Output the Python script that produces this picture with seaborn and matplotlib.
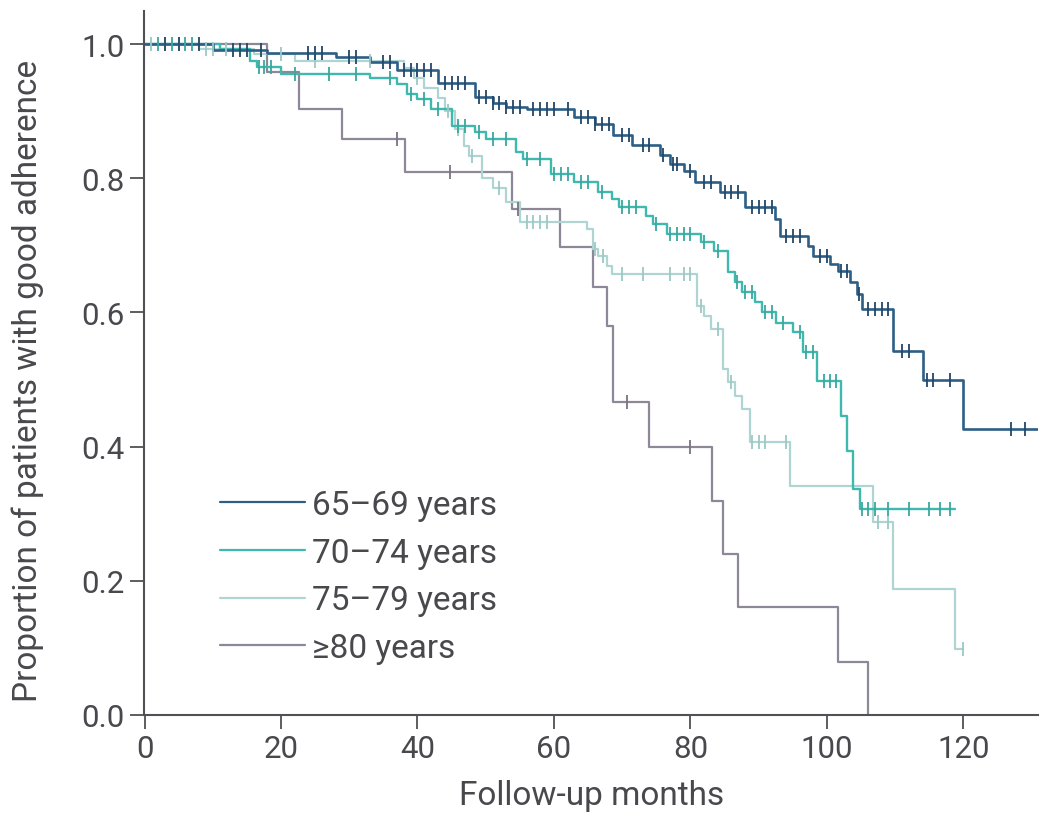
import numpy as np
import pandas as pd
import matplotlib
matplotlib.use("Agg")
import matplotlib.pyplot as plt
import seaborn as sns

# ---------------- data ----------------
groups = ["65\u201369 years", "70\u201374 years", "75\u201379 years", "\u226580 years"]

# step times (months) and survival level after each step
t_6569 = [0, 10, 18, 28, 33, 37, 43, 48.5, 51, 53, 56, 63, 66, 68.6, 71.5, 75.5, 77, 79,
          80.6, 84.3, 88, 92.4, 93.1, 97.2, 97.9, 100.4, 101.6, 103.4, 104.4, 105.1,
          109.7, 114.1, 120]
s_6569 = [1.0, 0.992, 0.987, 0.981, 0.973, 0.962, 0.942, 0.921, 0.913, 0.906, 0.903, 0.891,
          0.881, 0.865, 0.850, 0.835, 0.822, 0.811, 0.794, 0.779, 0.757, 0.739, 0.714,
          0.699, 0.684, 0.672, 0.662, 0.645, 0.627, 0.605, 0.542, 0.500, 0.426]
end_6569 = 131
c_6569 = [3, 5, 8, 13, 14, 15, 17, 24, 25, 26, 30, 31, 35, 36, 38, 39, 40, 41, 42, 44, 45,
          46, 47, 49, 50, 51, 52, 53, 54, 55, 57, 58, 59, 60, 62, 64, 65, 66, 67, 68, 70,
          71, 73, 74, 76, 77.5, 78, 80, 82, 83, 85, 86, 87, 89, 90, 91, 92, 94, 95, 96, 99,
          100, 102, 103, 104.7, 106, 107, 108, 109, 111, 112, 114.6, 115.5, 118, 127, 129]

t_7074 = [0, 11, 15.5, 16.5, 20, 33, 37, 38.5, 40, 42, 45, 48.5, 50, 54.5, 55.5, 59.5, 63,
          66.5, 68.5, 69.5, 73.5, 74.5, 76.5, 81.5, 83.5, 85.5, 86.5, 87.5, 89.5, 90.5, 92.5,
          95, 96.5, 98.5, 102, 103, 103.8, 104.8]
s_7074 = [1.0, 0.993, 0.975, 0.966, 0.955, 0.950, 0.940, 0.925, 0.918, 0.903, 0.878, 0.869,
          0.858, 0.839, 0.829, 0.806, 0.794, 0.779, 0.769, 0.757, 0.744, 0.732, 0.717, 0.705,
          0.692, 0.660, 0.645, 0.630, 0.615, 0.600, 0.585, 0.571, 0.541, 0.498, 0.446, 0.393,
          0.337, 0.307]
end_7074 = 118.8
c_7074 = [2, 4, 6, 7, 16.8, 17.5, 18.5, 22, 27, 31, 36, 39, 41, 43, 46, 47, 49, 51, 53, 56,
          58, 60, 61, 62, 64, 65, 67, 70, 71, 72, 75, 77, 78, 79, 80, 82, 84, 86.8, 88, 89,
          91, 92, 93.5, 96, 97, 98, 99.5, 100.5, 101.3, 105.2, 106, 107, 109, 112, 115, 116.5,
          118]

t_7579 = [0, 8, 16, 22, 38, 39.5, 41, 43, 44, 45.5, 46.8, 47.5, 49.5, 51, 53, 55, 64.8,
          65.7, 66.5, 67.7, 68.5, 81, 82, 83, 84.8, 85.5, 86.5, 87.5, 88.7, 94.6, 106.7,
          109.7, 118.8]
s_7579 = [1.0, 0.993, 0.985, 0.975, 0.965, 0.950, 0.935, 0.920, 0.900, 0.873, 0.848, 0.833,
          0.800, 0.785, 0.765, 0.735, 0.724, 0.695, 0.684, 0.669, 0.657, 0.610, 0.595, 0.575,
          0.515, 0.496, 0.475, 0.456, 0.407, 0.341, 0.288, 0.188, 0.098]
end_7579 = 120
c_7579 = [1, 3, 5, 9, 10, 12, 20, 25, 33, 40, 44.5, 46, 48, 52, 56, 57, 58, 59, 66, 67.2,
          70, 73, 77, 79, 80, 81.5, 84, 86, 89, 90, 91, 94, 107.5, 109, 120]

t_80 = [0, 17.9, 22.7, 28.9, 38.1, 53.8, 60.9, 65.7, 67.7, 68.6, 74.0, 83.1, 84.8, 87.0,
        101.6, 106.0]
s_80 = [1.0, 0.958, 0.903, 0.858, 0.809, 0.754, 0.697, 0.638, 0.580, 0.466, 0.400, 0.319,
        0.240, 0.161, 0.079, 0.0]
end_80 = 106.0
c_80 = [37, 44.7, 54.7, 70.7, 80]

x_ticks = [0, 20, 40, 60, 80, 100, 120]
y_ticks = [0.0, 0.2, 0.4, 0.6, 0.8, 1.0]
x_label = "Follow-up months"
y_label = "Proportion of patients with good adherence"

colors = {groups[0]: "#2d5f86", groups[1]: "#3fb8ad", groups[2]: "#aed5d2",
          groups[3]: "#8e8797"}
widths = {groups[0]: 1.9, groups[1]: 1.7, groups[2]: 1.6, groups[3]: 1.6}
censor_colors = {groups[0]: "#23476a", groups[1]: "#3aa79d", groups[2]: "#9cc9c5",
                 groups[3]: "#7a7382"}

series = {
    groups[0]: (t_6569, s_6569, end_6569, c_6569),
    groups[1]: (t_7074, s_7074, end_7074, c_7074),
    groups[2]: (t_7579, s_7579, end_7579, c_7579),
    groups[3]: (t_80, s_80, end_80, c_80),
}

# ---------------- build tables ----------------
curve_rows, cens_rows = [], []
for g, (t, s, end, c) in series.items():
    tt = list(t) + ([end] if end > t[-1] else [])
    ss = list(s) + ([s[-1]] if end > t[-1] else [])
    for i, (a, b) in enumerate(zip(tt, ss)):
        curve_rows.append({"group": g, "month": a, "prop": b, "order": i})
    t_arr = np.asarray(t)
    s_arr = np.asarray(s)
    for ci in c:
        lvl = s_arr[np.searchsorted(t_arr, ci, side="right") - 1]
        cens_rows.append({"group": g, "month": ci, "prop": lvl})
curves = pd.DataFrame(curve_rows)
cens = pd.DataFrame(cens_rows)

# ---------------- plot ----------------
sns.set_theme(style="white")
plt.rcParams["font.family"] = ["Roboto", "DejaVu Sans"]
text_color = "#48484d"
FS = 22.5
LFS = 24

fig = plt.figure(figsize=(10.5, 8.2), dpi=100)
ax = fig.add_axes([0.137, 0.127, 0.852, 0.858])

draw_order = [groups[3], groups[2], groups[1], groups[0]]
for g in draw_order:
    d = curves[curves["group"] == g].sort_values("order")
    sns.lineplot(data=d, x="month", y="prop", color=colors[g], linewidth=widths[g],
                 drawstyle="steps-post", estimator=None, sort=False, ax=ax, label=g)
    dc = cens[cens["group"] == g]
    sns.scatterplot(data=dc, x="month", y="prop", marker="|", s=90,
                    color=censor_colors[g], linewidth=1.3, ax=ax, legend=False, zorder=3)

h, l = ax.get_legend_handles_labels()
hmap = dict(zip(l, h))
leg = ax.legend([hmap[g] for g in groups], groups, loc="upper left",
                bbox_to_anchor=(0.085, 0.321), borderaxespad=0, borderpad=0,
                frameon=False, fontsize=LFS,
                handlelength=2.55, handletextpad=0.2, labelspacing=0.47,
                labelcolor=text_color)
for line in leg.get_lines():
    line.set_linewidth(1.6)

ax.set_xlim(-0.1, 131)
ax.set_ylim(0, 1.049)
ax.set_xticks(x_ticks)
ax.set_yticks(y_ticks)
ax.set_xticklabels([str(v) for v in x_ticks])
ax.set_yticklabels([f"{v:.1f}" for v in y_ticks])
ax.set_xlabel(x_label, fontsize=LFS, color=text_color, labelpad=11)
ax.set_ylabel(y_label, fontsize=LFS, color=text_color)
ax.yaxis.set_label_coords(-0.112, 0.476)

sns.despine(ax=ax)
for sp in ["left", "bottom"]:
    ax.spines[sp].set_color("#505055")
    ax.spines[sp].set_linewidth(1.5)
ax.tick_params(axis="both", direction="out", length=10, width=1.3, color="#505055",
               labelsize=FS, labelcolor=text_color, pad=4,
               left=True, bottom=True)

fig.savefig("out.png", dpi=100, facecolor="white")
